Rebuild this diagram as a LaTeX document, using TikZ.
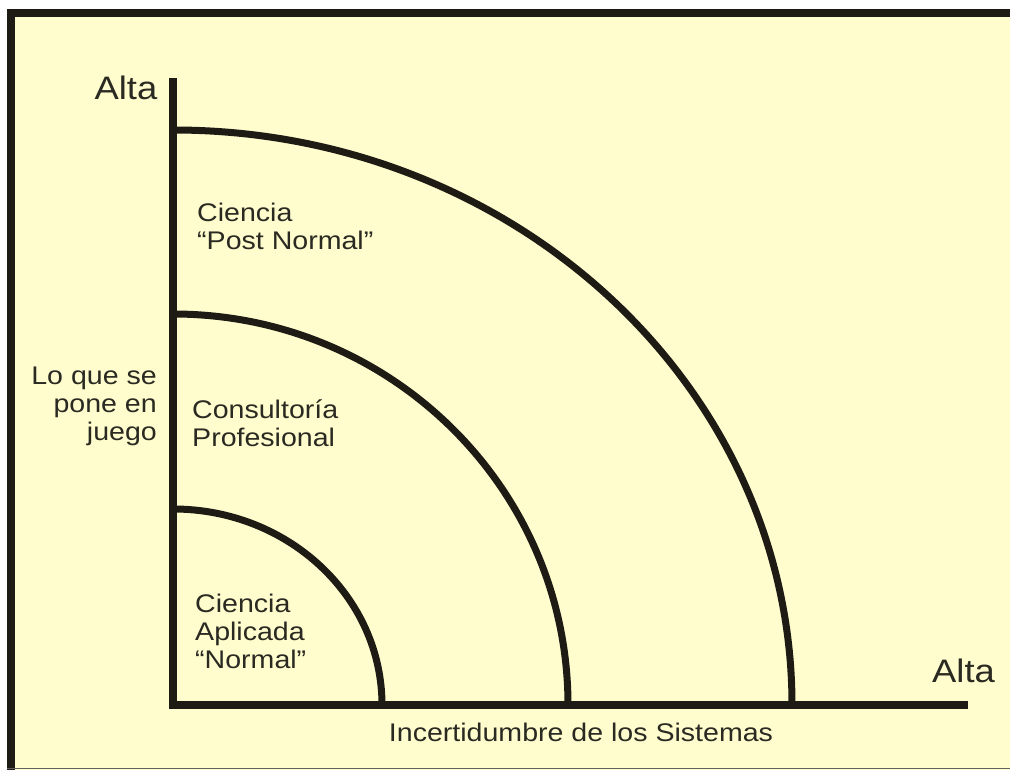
\documentclass[tikz,border=0pt]{standalone}
\usepackage{fontspec}
\setmainfont[FakeStretch=1.12]{Liberation Sans}
\definecolor{bgyellow}{HTML}{FFFDCD}
\definecolor{inkline}{HTML}{1E1A14}
\definecolor{inktext}{HTML}{2A2A22}
\begin{document}
\begin{tikzpicture}[x=1pt,y=1pt,
  axisline/.style={draw=inkline,line width=8pt,line join=miter},
  arcline/.style={draw=inkline,line width=7pt},
  framebar/.style={draw=inkline,line width=8pt,line join=miter},
  lbl/.style={inner sep=0pt,text=inktext,font=\fontsize{25.5}{28}\selectfont},
  biglbl/.style={inner sep=0pt,text=inktext,font=\fontsize{32.5}{36}\selectfont}]
\useasboundingbox (0,0) rectangle (1010,773);
\fill[white] (0,0) rectangle (1010,773);
\fill[bgyellow] (7,3) rectangle (1010,764);
% frame
\coordinate (fTR) at (1010,760);
\coordinate (fTL) at (11,760);
\coordinate (fBL) at (11,3);
\draw[framebar] (fTR) -- (fTL) -- (fBL);
\coordinate (bL) at (7,4.5);
\coordinate (bR) at (1010,4.5);
\draw[draw=gray!70!inkline,line width=1.5pt] (bL) -- (bR);
% axes
\coordinate (O) at (173,68);
\coordinate (ytop) at (173,695);
\coordinate (xend) at (968,68);
\draw[axisline] (ytop) -- (O) -- (xend);
% arcs
\coordinate (a1) at (173,264);
\coordinate (a2) at (173,459);
\coordinate (a3) at (173,643);
\draw[arcline] (a1) arc[start angle=90,end angle=0,x radius=209,y radius=196];
\draw[arcline] (a2) arc[start angle=90,end angle=0,x radius=395,y radius=391];
\draw[arcline] (a3) arc[start angle=90,end angle=0,x radius=619,y radius=575];
% labels
\node[biglbl,anchor=base] (altaY) at (126,673) {Alta};
\node[biglbl,anchor=base west] (altaX) at (932,90) {Alta};
\node[lbl,anchor=base west,align=left] (pn) at (197,523) {Ciencia\\“Post Normal”};
\node[lbl,anchor=base west,align=left] (cp) at (192,326) {Consultoría\\Profesional};
\node[lbl,anchor=base west,align=left] (ca) at (195,104) {Ciencia\\Aplicada\\“Normal”};
\node[lbl,anchor=base east,align=right] (lq) at (157,332) {Lo que se\\pone en\\juego};
\node[lbl,anchor=base] (inc) at (581,31) {Incertidumbre de los Sistemas};
\end{tikzpicture}
\end{document}
